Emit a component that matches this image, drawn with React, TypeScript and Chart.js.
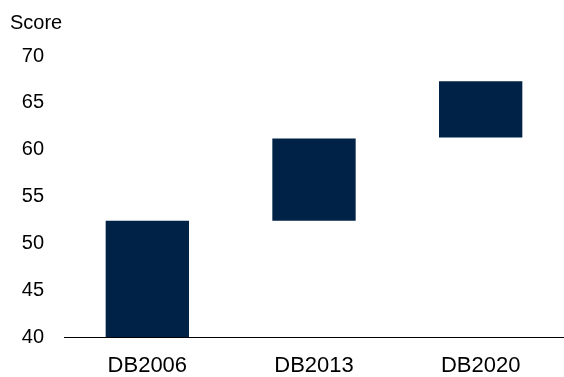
import React, { useEffect, useRef } from "react";
import { Chart, registerables } from "chart.js";

Chart.register(...registerables);

const categories = ["DB2006", "DB2013", "DB2020"];
const barStart = [40, 52.4, 61.3];
const barEnd = [52.4, 61.2, 67.3];
const yTicks = [40, 45, 50, 55, 60, 65, 70];
const axisTitle = "Score";

const FONT = "'Liberation Sans', Arial, Helvetica, sans-serif";
const BAR_COLOR = "#002247";

const scoreLabel = {
  id: "scoreLabel",
  afterDraw(chart: any) {
    const ctx = chart.ctx;
    ctx.save();
    ctx.font = `20px ${FONT}`;
    ctx.fillStyle = "#000";
    ctx.textAlign = "left";
    ctx.textBaseline = "middle";
    ctx.fillText(axisTitle, 10, 23);
    ctx.restore();
  },
};

export default function App() {
  const ref = useRef<HTMLCanvasElement | null>(null);

  useEffect(() => {
    if (!ref.current) return;
    const chart = new Chart(ref.current, {
      type: "bar",
      data: {
        labels: categories,
        datasets: [
          {
            data: categories.map((_, i) => [barStart[i], barEnd[i]]) as any,
            backgroundColor: BAR_COLOR,
            borderWidth: 0,
            barPercentage: 0.5,
            categoryPercentage: 1,
          },
        ],
      },
      options: {
        animation: false,
        responsive: true,
        maintainAspectRatio: false,
        layout: { padding: { top: 56, left: 0, right: 0, bottom: 0 } },
        plugins: {
          legend: { display: false },
          tooltip: { enabled: false },
          title: { display: false },
        },
        scales: {
          x: {
            grid: { display: false, drawTicks: false },
            border: { display: true, color: "#000", width: 1 },
            ticks: {
              color: "#000",
              font: { family: FONT, size: 22 },
              padding: 16,
              maxRotation: 0,
            },
            afterFit(scale: any) {
              scale.height = 40;
            },
          },
          y: {
            min: 40,
            max: 70,
            grid: { display: false, drawTicks: false },
            border: { display: false },
            afterBuildTicks(scale: any) {
              scale.ticks = yTicks.map((v) => ({ value: v }));
            },
            ticks: {
              color: "#000",
              font: { family: FONT, size: 20 },
              padding: 20,
            },
            afterFit(scale: any) {
              scale.width = 64;
            },
          },
        },
      },
      plugins: [scoreLabel],
    });
    return () => chart.destroy();
  }, []);

  return (
    <div style={{ position: "absolute", left: 0, top: 0, width: 564, height: 377, background: "#fff" }}>
      <canvas ref={ref} />
    </div>
  );
}
